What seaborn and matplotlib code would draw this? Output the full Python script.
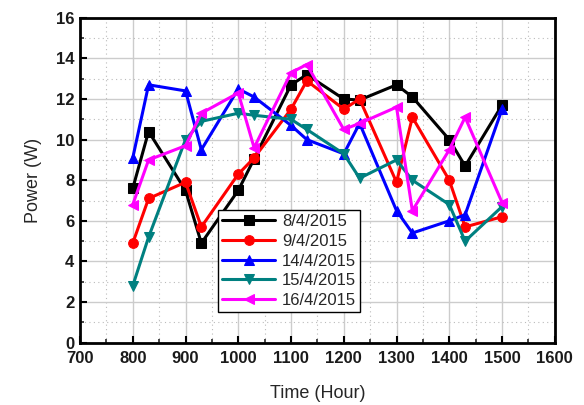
import matplotlib
matplotlib.use("Agg")
import matplotlib.pyplot as plt
import seaborn as sns
import pandas as pd
from matplotlib.ticker import MultipleLocator

hours = [800, 830, 900, 930, 1000, 1030, 1100, 1130, 1200, 1230, 1300, 1330, 1400, 1430, 1500]
p_0804 = [7.6, 10.4, 7.5, 4.9, 7.5, 9.05, 12.7, 13.2, 12.0, 11.95, 12.7, 12.1, 10.0, 8.7, 11.7]
p_0904 = [4.9, 7.1, 7.9, 5.7, 8.3, 9.1, 11.5, 12.9, 11.5, 12.0, 7.9, 11.1, 8.0, 5.7, 6.2]
p_1404 = [9.1, 12.7, 12.4, 9.5, 12.5, 12.1, 10.7, 10.0, 9.3, 10.8, 6.5, 5.4, 6.0, 6.3, 11.5]
p_1504 = [2.8, 5.2, 10.0, 10.9, 11.3, 11.2, 11.0, 10.5, 9.3, 8.1, 9.0, 8.0, 6.8, 5.0, 6.7]
p_1604 = [6.8, 9.0, 9.7, 11.3, 12.3, 9.6, 13.3, 13.7, 10.5, 10.8, 11.6, 6.5, 9.5, 11.1, 6.9]

labels = ["8/4/2015", "9/4/2015", "14/4/2015", "15/4/2015", "16/4/2015"]
series = [p_0804, p_0904, p_1404, p_1504, p_1604]
colors = ["#000000", "#ff0000", "#0000ff", "#008080", "#ff00ff"]
markers = ["s", "o", "^", "v", "<"]

sns.set_style("white")
plt.rcParams['font.family'] = ['Liberation Sans', 'DejaVu Sans']

fig = plt.figure(figsize=(5.84, 4.05), dpi=100)
ax = fig.add_axes([0.137, 0.154, 0.813, 0.802])

for lab, vals, col, mk in zip(labels, series, colors, markers):
    df = pd.DataFrame({"Time": hours, "Power": vals})
    sns.lineplot(data=df, x="Time", y="Power", ax=ax, color=col, marker=mk,
                 markersize=7, markeredgecolor=col, linewidth=2.2, label=lab)

ax.set_xlim(700, 1600)
ax.set_ylim(0, 16)
ax.xaxis.set_major_locator(MultipleLocator(100))
ax.xaxis.set_minor_locator(MultipleLocator(50))
ax.yaxis.set_major_locator(MultipleLocator(2))
ax.yaxis.set_minor_locator(MultipleLocator(1))

ax.grid(which="major", color="#cccccc", linewidth=1.0, linestyle="-")
ax.grid(which="minor", color="#bbbbbb", linewidth=0.8, linestyle=(0, (1, 3)))
ax.set_axisbelow(True)

ax.tick_params(which="major", direction="in", length=5, width=1.5, colors="black",
               labelsize=12, bottom=True, left=True)
ax.tick_params(axis="x", which="major", pad=6)
ax.tick_params(axis="y", which="major", pad=4)
ax.tick_params(which="minor", direction="in", length=3, width=1.2, bottom=True, left=True)
for t in ax.get_xticklabels() + ax.get_yticklabels():
    t.set_fontweight("bold")
    t.set_color("#1a1a1a")

for s in ax.spines.values():
    s.set_color("black")
    s.set_linewidth(2)
    s.set_visible(True)

ax.set_xlabel("Time (Hour)", fontsize=13, labelpad=14)
ax.set_ylabel("Power (W)", fontsize=13, labelpad=10)

leg = ax.legend(loc="lower left", bbox_to_anchor=(0.29, 0.094), fontsize=12,
                handlelength=3.2, frameon=True, fancybox=False, borderpad=0.25,
                labelspacing=0.28, handletextpad=0.4, borderaxespad=0)
leg.get_frame().set_edgecolor("black")
leg.get_frame().set_linewidth(1.0)
leg.get_frame().set_alpha(1)

fig.savefig("out.png", dpi=100)
